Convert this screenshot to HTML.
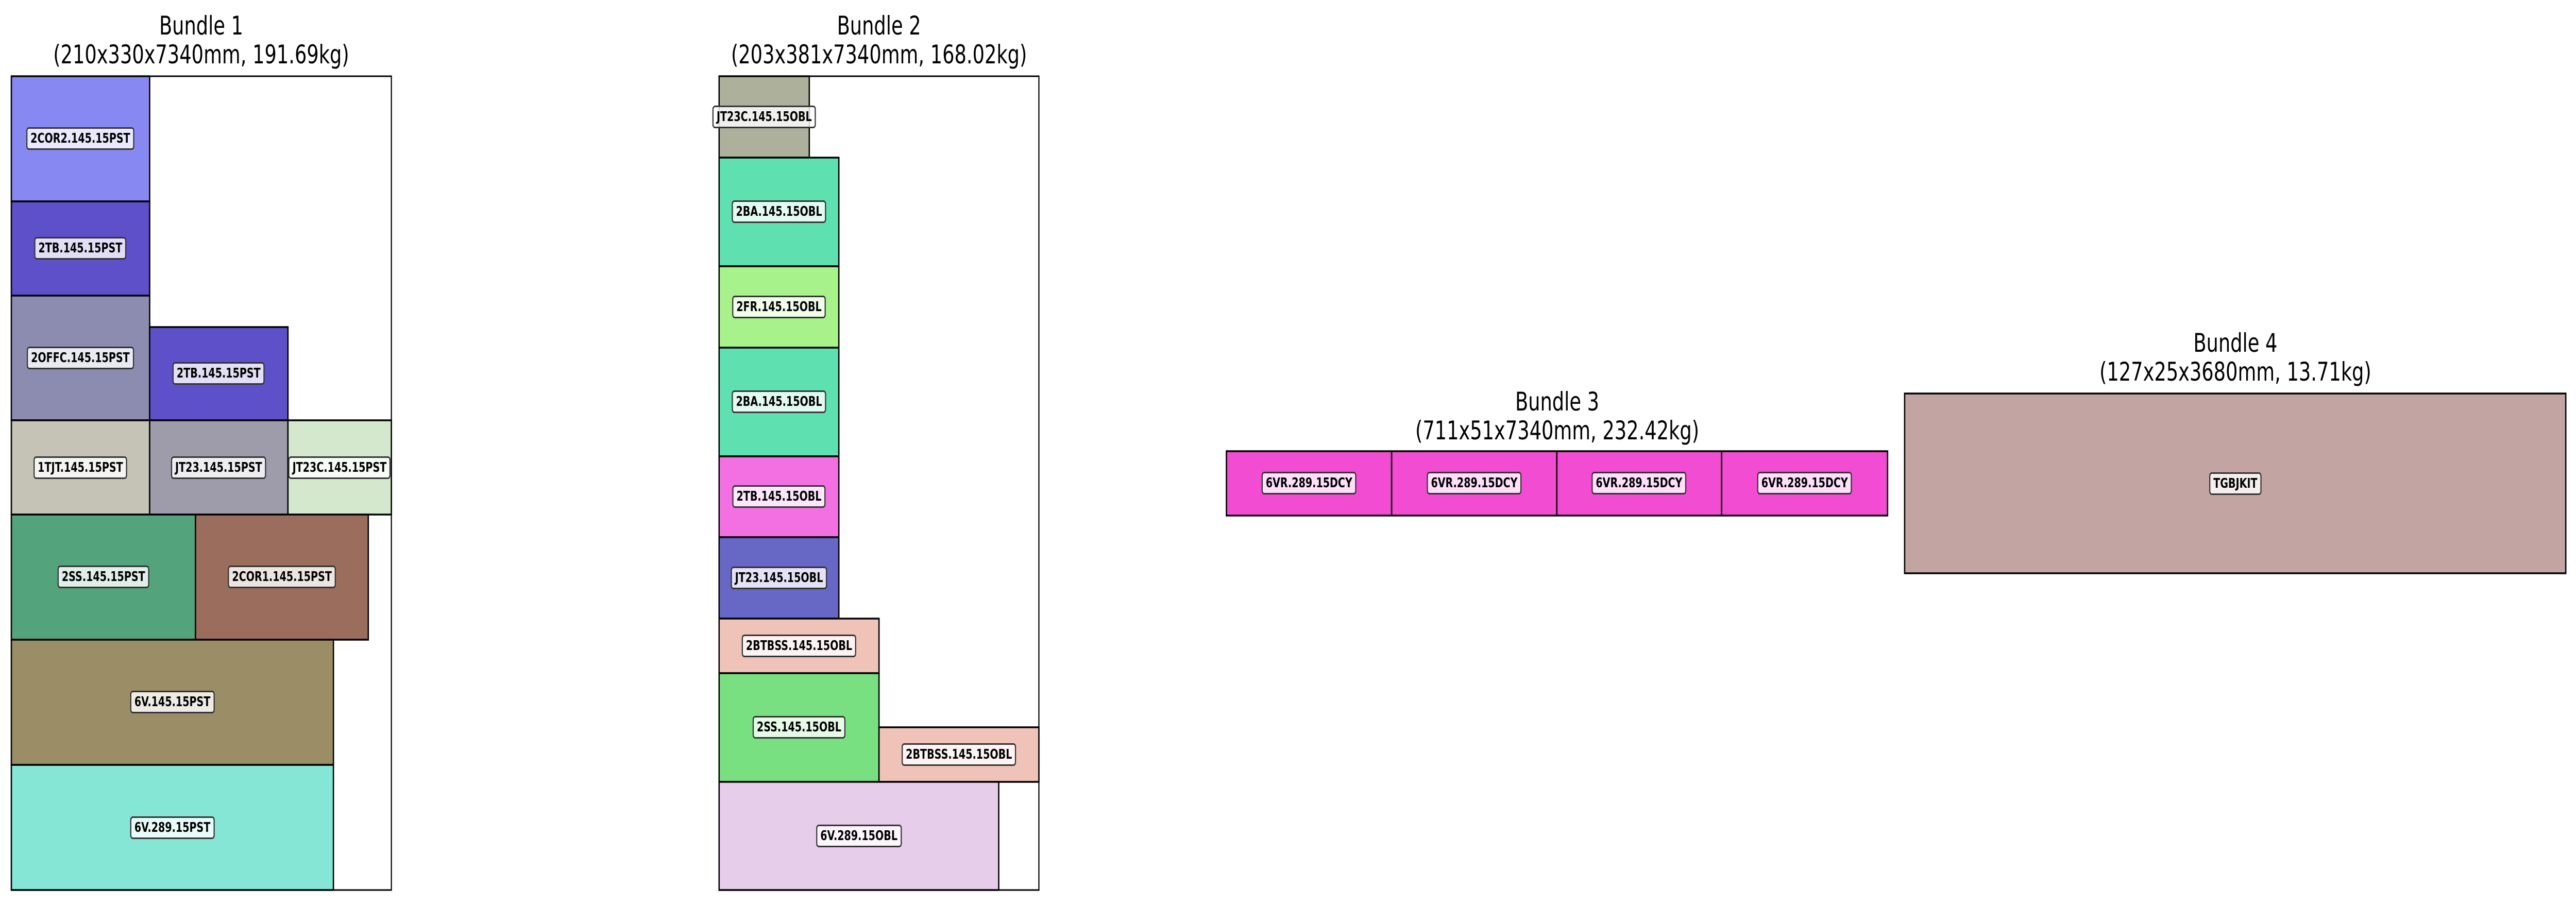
<!DOCTYPE html>
<html><head><meta charset="utf-8"><style>
html,body{margin:0;padding:0;background:#fff;width:100vw;height:100vh;overflow:hidden;}
svg.root{display:block;width:100vw;height:100vh;}
#c{position:relative;width:6799px;height:1759px;overflow:visible;}
.t{position:absolute;transform:translateX(-50%);text-align:center;font-family:"DejaVu Sans","Liberation Sans",sans-serif;font-size:50px;line-height:56px;white-space:nowrap;color:#000;}
.l{position:absolute;transform:translate(-50%,-50%);font-family:"DejaVu Sans","Liberation Sans",sans-serif;font-weight:bold;font-size:26px;line-height:30px;padding:4px 8px;border:3px solid #333;border-radius:7px;background:rgba(255,255,255,0.82);white-space:nowrap;color:#000;}
</style></head><body>
<svg class="root" viewBox="0 0 6799 1759" preserveAspectRatio="none" xmlns="http://www.w3.org/2000/svg">
<rect x="0" y="0" width="6799" height="1759" fill="#fff"/>
<g stroke="#000" stroke-width="3">
<rect x="30" y="148" width="1003" height="1580" fill="#fff"/>
<rect x="1898" y="148" width="844" height="1580" fill="#fff"/>
</g>
<g stroke="#000" stroke-width="3.5">
<rect x="30" y="148" width="365" height="243" fill="#8888f2"/>
<rect x="30" y="391" width="365" height="183" fill="#5e50c9"/>
<rect x="30" y="574" width="365" height="242" fill="#8c8cb0"/>
<rect x="395" y="635" width="365" height="181" fill="#5e50c9"/>
<rect x="30" y="816" width="365" height="183" fill="#c5c2b6"/>
<rect x="395" y="816" width="365" height="183" fill="#9e9caa"/>
<rect x="760" y="816" width="273" height="183" fill="#d3e8cc"/>
<rect x="30" y="999" width="486" height="243" fill="#53a47c"/>
<rect x="516" y="999" width="456" height="243" fill="#9b6d5c"/>
<rect x="30" y="1242" width="850" height="243" fill="#9b8e66"/>
<rect x="30" y="1485" width="850" height="243" fill="#85e6d5"/>
<rect x="1898" y="148" width="238" height="158" fill="#adb19b"/>
<rect x="1898" y="306" width="316" height="211" fill="#5ee0b0"/>
<rect x="1898" y="517" width="316" height="158" fill="#a8f28b"/>
<rect x="1898" y="675" width="316" height="211" fill="#5ee0b0"/>
<rect x="1898" y="886" width="316" height="157" fill="#f270e2"/>
<rect x="1898" y="1043" width="316" height="158" fill="#6767c6"/>
<rect x="1898" y="1201" width="422" height="106" fill="#efc3b8"/>
<rect x="1898" y="1307" width="422" height="211" fill="#79e081"/>
<rect x="2320" y="1412" width="422" height="106" fill="#efc3b8"/>
<rect x="1898" y="1518" width="738" height="210" fill="#e6cdea"/>
<rect x="3237" y="876" width="436" height="125" fill="#f24dd2"/>
<rect x="3673" y="876" width="436" height="125" fill="#f24dd2"/>
<rect x="4109" y="876" width="435" height="125" fill="#f24dd2"/>
<rect x="4544" y="876" width="438" height="125" fill="#f24dd2"/>
<rect x="5027" y="764" width="1745" height="349" fill="#c2a5a2"/>
</g>
<foreignObject x="0" y="0" width="6799" height="1759">
<div xmlns="http://www.w3.org/1999/xhtml" id="c">
<div class="t" style="left:531px;top:22px;">Bundle 1<br/>(210x330x7340mm, 191.69kg)</div>
<div class="t" style="left:2320px;top:22px;">Bundle 2<br/>(203x381x7340mm, 168.02kg)</div>
<div class="t" style="left:4110px;top:752px;">Bundle 3<br/>(711x51x7340mm, 232.42kg)</div>
<div class="t" style="left:5900px;top:638px;">Bundle 4<br/>(127x25x3680mm, 13.71kg)</div>

<div class="l" style="left:212px;top:269px;">2COR2.145.15PST</div>
<div class="l" style="left:212px;top:482px;">2TB.145.15PST</div>
<div class="l" style="left:212px;top:695px;">2OFFC.145.15PST</div>
<div class="l" style="left:577px;top:725px;">2TB.145.15PST</div>
<div class="l" style="left:212px;top:908px;">1TJT.145.15PST</div>
<div class="l" style="left:577px;top:908px;">JT23.145.15PST</div>
<div class="l" style="left:896px;top:908px;">JT23C.145.15PST</div>
<div class="l" style="left:273px;top:1120px;">2SS.145.15PST</div>
<div class="l" style="left:744px;top:1120px;">2COR1.145.15PST</div>
<div class="l" style="left:455px;top:1363px;">6V.145.15PST</div>
<div class="l" style="left:455px;top:1607px;">6V.289.15PST</div>

<div class="l" style="left:2017px;top:227px;">JT23C.145.15OBL</div>
<div class="l" style="left:2056px;top:411px;">2BA.145.15OBL</div>
<div class="l" style="left:2056px;top:596px;">2FR.145.15OBL</div>
<div class="l" style="left:2056px;top:780px;">2BA.145.15OBL</div>
<div class="l" style="left:2056px;top:964px;">2TB.145.15OBL</div>
<div class="l" style="left:2056px;top:1122px;">JT23.145.15OBL</div>
<div class="l" style="left:2109px;top:1254px;">2BTBSS.145.15OBL</div>
<div class="l" style="left:2109px;top:1412px;">2SS.145.15OBL</div>
<div class="l" style="left:2531px;top:1465px;">2BTBSS.145.15OBL</div>
<div class="l" style="left:2267px;top:1623px;">6V.289.15OBL</div>

<div class="l" style="left:3455px;top:938px;">6VR.289.15DCY</div>
<div class="l" style="left:3891px;top:938px;">6VR.289.15DCY</div>
<div class="l" style="left:4326px;top:938px;">6VR.289.15DCY</div>
<div class="l" style="left:4763px;top:938px;">6VR.289.15DCY</div>

<div class="l" style="left:5900px;top:939px;">TGBJKIT</div>
</div>
</foreignObject>
</svg>
</body></html>
